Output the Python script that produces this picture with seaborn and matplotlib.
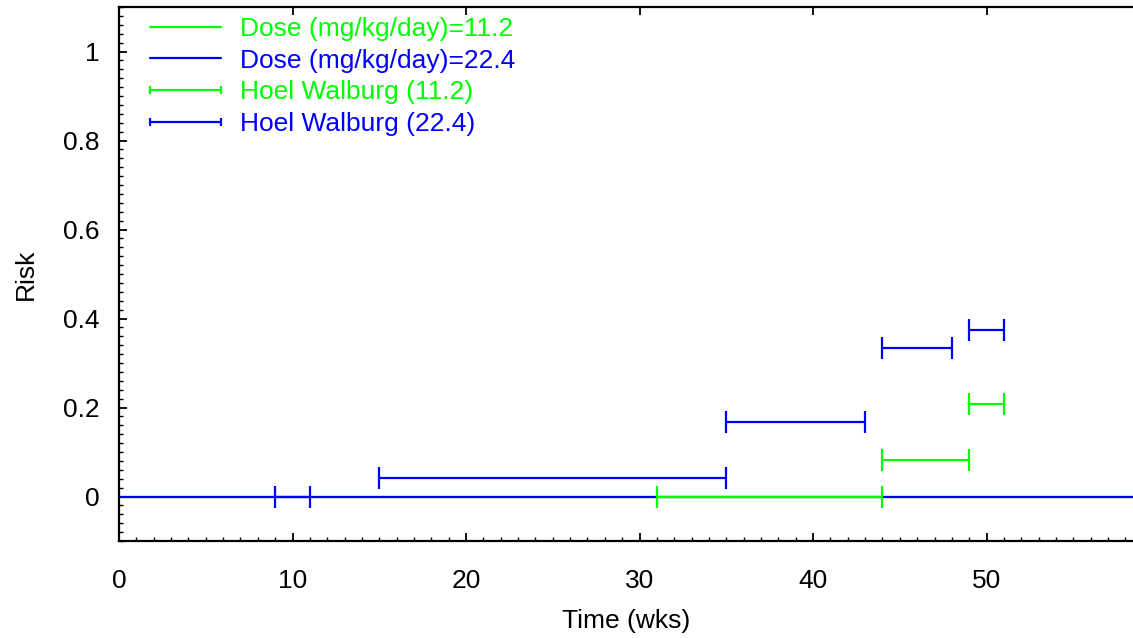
import matplotlib
matplotlib.use("Agg")
import matplotlib.pyplot as plt
import seaborn as sns
import pandas as pd
from matplotlib.lines import Line2D
from matplotlib.ticker import MultipleLocator, FixedLocator

# ---- data ----
dose_time = [0, 60]
dose_risk_low = [0.0, 0.0]
dose_risk_high = [0.0, 0.0]

hw_low_start = [31, 44, 49]
hw_low_end = [44, 49, 51]
hw_low_risk = [0.0, 0.083, 0.208]

hw_high_start = [9, 15, 35, 44, 49]
hw_high_end = [11, 35, 43, 48, 51]
hw_high_risk = [0.0, 0.042, 0.167, 0.333, 0.375]

labels = ["Dose (mg/kg/day)=11.2", "Dose (mg/kg/day)=22.4",
          "Hoel Walburg (11.2)", "Hoel Walburg (22.4)"]
yticks = [0, 0.2, 0.4, 0.6, 0.8, 1]
ytick_labels = ["0", "0.2", "0.4", "0.6", "0.8", "1"]
xticks = [0, 10, 20, 30, 40, 50]

GREEN = "#00ff00"
BLUE = "#0000ff"
FS = 19

sns.set_style("white")
plt.rcParams["font.family"] = ["Liberation Sans", "DejaVu Sans"]

fig = plt.figure(figsize=(11.33, 6.38), dpi=100)
ax = fig.add_axes([119 / 1133, 1 - 541 / 638, 1 - 119 / 1133, (541 - 7) / 638])


def intervals_df(starts, ends, risks):
    rows = []
    for i, (s, e, r) in enumerate(zip(starts, ends, risks)):
        rows.append({"id": i, "time": s, "risk": r})
        rows.append({"id": i, "time": e, "risk": r})
    return pd.DataFrame(rows)


sns.lineplot(x=dose_time, y=dose_risk_low, color=GREEN, lw=1.6, ax=ax)
sns.lineplot(x=dose_time, y=dose_risk_high, color=BLUE, lw=1.6, ax=ax)

for starts, ends, risks, col in [(hw_low_start, hw_low_end, hw_low_risk, GREEN),
                                 (hw_high_start, hw_high_end, hw_high_risk, BLUE)]:
    df = intervals_df(starts, ends, risks)
    sns.lineplot(data=df, x="time", y="risk", units="id", estimator=None,
                 sort=False, color=col, lw=1.6, marker="|", markersize=16,
                 markeredgewidth=1.6, markeredgecolor=col, ax=ax, legend=False)

ax.set_xlim(0, 58.44)
ax.set_ylim(-0.1, 1.1)
ax.xaxis.set_major_locator(FixedLocator(xticks))
ax.xaxis.set_minor_locator(MultipleLocator(1))
ax.yaxis.set_major_locator(FixedLocator(yticks))
ax.set_yticklabels(ytick_labels)
ax.yaxis.set_minor_locator(MultipleLocator(0.02))

ax.tick_params(which="both", direction="in", colors="black", labelsize=FS,
               bottom=True, left=True, right=False)
ax.tick_params(which="major", length=6, width=1.3, top=True)
ax.tick_params(which="minor", length=3, width=1.0, top=False)
ax.tick_params(axis="x", which="major", pad=20)
ax.tick_params(axis="y", which="major", pad=14)

for side in ["left", "bottom", "top"]:
    ax.spines[side].set_visible(True)
    ax.spines[side].set_color("black")
    ax.spines[side].set_linewidth(1.6)
ax.spines["right"].set_visible(False)

ax.set_xlabel("Time (wks)", fontsize=FS, labelpad=12, color="black")
ax.set_ylabel("Risk", fontsize=FS, labelpad=18, color="black")

handles = [
    Line2D([], [], color=GREEN, lw=1.6),
    Line2D([], [], color=BLUE, lw=1.6),
    Line2D([], [], color=GREEN, lw=1.6, marker="|", markersize=6, mew=1.6),
    Line2D([], [], color=BLUE, lw=1.6, marker="|", markersize=6, mew=1.6),
]
leg = ax.legend(handles, labels, loc="upper left",
                bbox_to_anchor=(142 / 1133, 1 - 17 / 638),
                bbox_transform=fig.transFigure, frameon=False, fontsize=FS,
                numpoints=2, handlelength=3.3, handletextpad=0.42,
                labelspacing=0.29, borderpad=0, borderaxespad=0)
for txt, col in zip(leg.get_texts(), [GREEN, BLUE, GREEN, BLUE]):
    txt.set_color(col)

fig.savefig("out.png", dpi=100)
